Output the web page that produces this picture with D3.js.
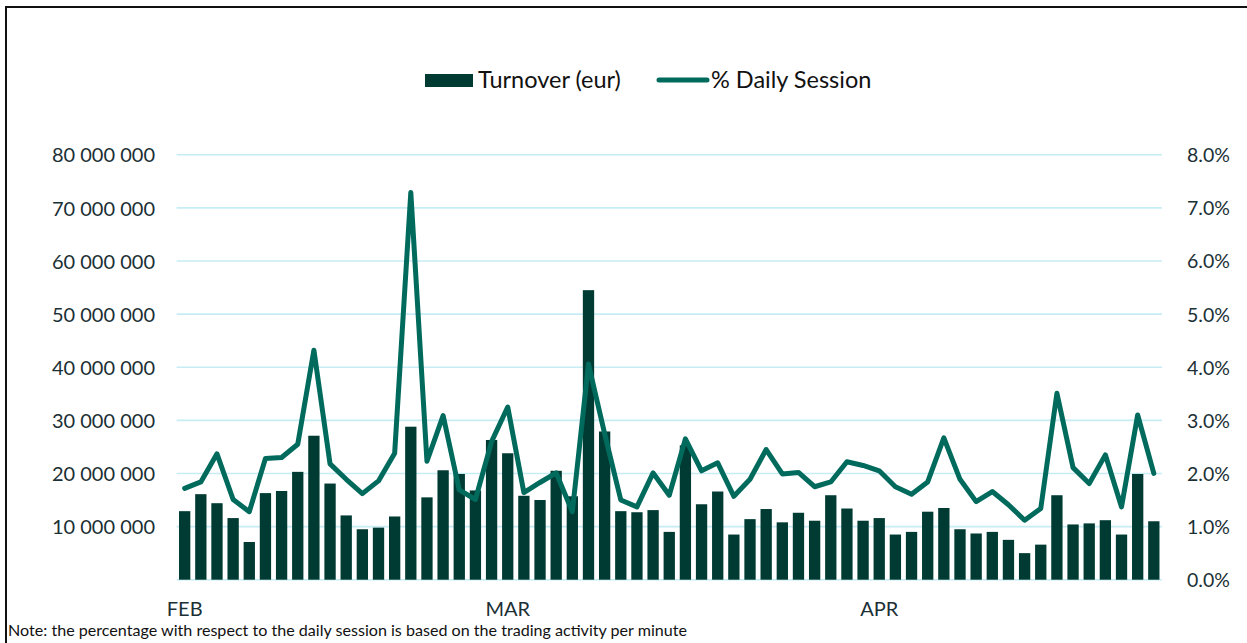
<!DOCTYPE html>
<html>
<head>
<meta charset="utf-8">
<script src="https://cdn.jsdelivr.net/npm/d3@7"></script>
<style>
  html, body { margin: 0; padding: 0; background: #fff; }
  svg { display: block; font-family: Lato, "Open Sans", sans-serif; }
</style>
</head>
<body>
<svg id="chart" width="1247" height="643"></svg>
<script>
// ---- data ----
const months = ["FEB", "MAR", "APR"];
const monthDays = [20, 23, 18];
const turnover = [
  12.9, 16.1, 14.4, 11.6, 7.1, 16.3, 16.7, 20.3, 27.1, 18.1,
  12.1, 9.5, 9.8, 11.9, 28.8, 15.5, 20.6, 19.9, 16.8, 26.3,
  23.8, 15.8, 15.0, 20.5, 15.7, 54.5, 27.9, 12.9, 12.7, 13.1,
  9.0, 25.3, 14.2, 16.6, 8.5, 11.4, 13.3, 10.8, 12.6, 11.1,
  15.9, 13.4, 11.1, 11.6, 8.5, 9.0, 12.8, 13.5, 9.5, 8.7,
  9.0, 7.5, 5.0, 6.6, 15.9, 10.4, 10.6, 11.2, 8.5, 19.9,
  11.0
].map(v => v * 1e6);
const dailySessionPct = [
  1.72, 1.84, 2.37, 1.51, 1.28, 2.28, 2.30, 2.55, 4.32, 2.18,
  1.89, 1.62, 1.86, 2.38, 7.29, 2.23, 3.09, 1.69, 1.51, 2.60,
  3.25, 1.64, 1.83, 2.01, 1.28, 4.06, 2.75, 1.50, 1.37, 2.01,
  1.59, 2.65, 2.05, 2.20, 1.57, 1.89, 2.45, 1.99, 2.02, 1.75,
  1.84, 2.22, 2.15, 2.05, 1.75, 1.61, 1.84, 2.67, 1.89, 1.47,
  1.66, 1.41, 1.12, 1.34, 3.51, 2.11, 1.81, 2.35, 1.37, 3.10,
  2.00
];
const leftTicks = [10e6, 20e6, 30e6, 40e6, 50e6, 60e6, 70e6, 80e6];
const rightTicks = [0, 1, 2, 3, 4, 5, 6, 7, 8];
const gridTicks = [0, 10e6, 20e6, 30e6, 40e6, 50e6, 60e6, 70e6, 80e6];
const legendLabels = ["Turnover (eur)", "% Daily Session"];
const noteText = "Note: the percentage with respect to the daily session is based on the trading activity per minute";

// categories: trading day keys, month label on the first day of each month
const days = [];
const monthStart = [];
months.forEach((m, mi) => {
  for (let d = 0; d < monthDays[mi]; d++) {
    if (d === 0) monthStart.push({ key: m + "-" + d, label: m });
    days.push(m + "-" + d);
  }
});

// ---- layout ----
const textColor = "#1b3035";
const barColor = "#003b33";
const lineColor = "#006a5d";
const gridColor = "#c6ecf4";

const svg = d3.select("#chart");

const x = d3.scaleBand().domain(days).range([176.6, 1161.9]).paddingInner(0.3).paddingOuter(0.15);
const yL = d3.scaleLinear().domain([0, 80e6]).range([579.7, 154.7]);
const yR = d3.scaleLinear().domain([0, 8]).range([579.7, 154.7]);

// frame
svg.append("path")
  .attr("d", "M6,643 V7 H1247")
  .attr("fill", "none").attr("stroke", "#111").attr("stroke-width", 2);

// grid
svg.append("g").selectAll("line").data(gridTicks).join("line")
  .attr("x1", 176.6).attr("x2", 1161.9)
  .attr("y1", d => yL(d)).attr("y2", d => yL(d))
  .attr("stroke", gridColor).attr("stroke-width", 1.6);

// left axis
const fmtSpace = d => d3.format(",")(d).replace(/,/g, " ");
const axL = d3.axisLeft(yL).tickValues(leftTicks).tickFormat(fmtSpace).tickSize(0).tickPadding(0);
const gL = svg.append("g").attr("transform", "translate(155,0)").call(axL);
gL.select(".domain").remove();
gL.selectAll("text").attr("fill", textColor).attr("font-size", 20).attr("font-family", "Lato").attr("dy", "0.36em");

// right axis
const axR = d3.axisRight(yR).tickValues(rightTicks).tickFormat(d => d3.format(".1f")(d) + "%").tickSize(0).tickPadding(0);
const gR = svg.append("g").attr("transform", "translate(1187,0)").call(axR);
gR.select(".domain").remove();
gR.selectAll("text").attr("fill", textColor).attr("font-size", 19.5).attr("font-family", "Lato").attr("dy", "0.36em");

// bars
svg.append("g").selectAll("rect").data(turnover).join("rect")
  .attr("x", (d, i) => x(days[i]))
  .attr("width", x.bandwidth())
  .attr("y", d => yL(d))
  .attr("height", d => yL(0) - yL(d))
  .attr("fill", barColor);

// line
const line = d3.line()
  .x((d, i) => x(days[i]) + x.bandwidth() / 2)
  .y(d => yR(d));
svg.append("path").datum(dailySessionPct)
  .attr("d", line)
  .attr("fill", "none")
  .attr("stroke", lineColor)
  .attr("stroke-width", 5)
  .attr("stroke-linejoin", "round")
  .attr("stroke-linecap", "round");

// x month labels
const axX = d3.axisBottom(x).tickValues(monthStart.map(m => m.key))
  .tickFormat(k => monthStart.find(m => m.key === k).label).tickSize(0).tickPadding(0);
const gX = svg.append("g").attr("transform", "translate(0,602)").call(axX);
gX.select(".domain").remove();
gX.selectAll("text").attr("fill", textColor).attr("font-size", 20).attr("font-family", "Lato").attr("dy", "0.72em");

// legend
const lg = svg.append("g");
lg.append("rect").attr("x", 425).attr("y", 74).attr("width", 48).attr("height", 13).attr("fill", barColor);
lg.append("text").attr("x", 478).attr("y", 80).attr("dy", "0.35em")
  .attr("font-size", 23.5).attr("fill", "#111").text(legendLabels[0]);
lg.append("line").attr("x1", 659).attr("x2", 707).attr("y1", 80).attr("y2", 80)
  .attr("stroke", lineColor).attr("stroke-width", 5).attr("stroke-linecap", "round");
lg.append("text").attr("x", 711).attr("y", 80).attr("dy", "0.35em")
  .attr("font-size", 23.5).attr("fill", "#111").text(legendLabels[1]);

// note
svg.append("text").attr("x", 8).attr("y", 636)
  .attr("font-size", 16.1).attr("fill", "#111").text(noteText);
</script>
</body>
</html>
